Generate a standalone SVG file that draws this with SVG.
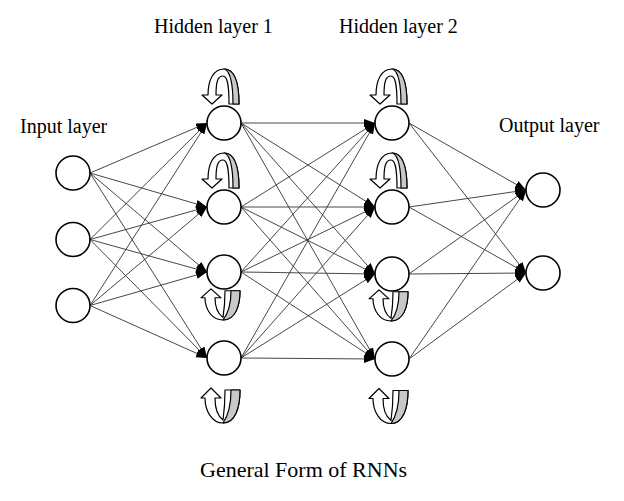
<svg xmlns="http://www.w3.org/2000/svg" xmlns:xlink="http://www.w3.org/1999/xlink" width="624" height="501" viewBox="0 0 624 501">
<style>
.lbl{font-family:"Liberation Serif","Times New Roman",serif;font-size:20px;fill:#000}
.ttl{font-family:"Liberation Serif","Times New Roman",serif;font-size:22px;fill:#000}
.node{fill:#fff;stroke:#000;stroke-width:1.6}
.edge{stroke:#333;stroke-width:0.9;fill:none;marker-end:url(#ah)}
.rw{fill:#fff;stroke:#000;stroke-width:1.2;stroke-linejoin:round}
.rg{fill:#c8c8c8;stroke:#000;stroke-width:1.2;stroke-linejoin:round}
</style>
<defs>
<marker id="ah" markerUnits="userSpaceOnUse" markerWidth="12" markerHeight="9" refX="11" refY="4" orient="auto">
<path d="M0,0 L11,4 L0,8 Z" fill="#000"/>
</marker>
<g id="loopTop">
<path class="rw" d="M-22,-28 L-12,-19 L-2,-28 L-8,-28 C-8,-42 -6,-47 -1,-47 C3,-47 5,-40 5,-19 L15,-19 C15,-42 10,-54 0,-54 C-10,-54 -16,-44 -16,-28 Z"/>
<path class="rg" d="M1,-54 C6,-51 9,-40 9,-19 L15,-19 C15,-42 10,-54 0,-54 Z"/>
</g>
<g id="loopBot">
<path class="rw" d="M-23,40 L-13,30 L-3,40 L-9,40 C-9,52 -5,59 -1,62 C0,55 1,45 1,32 L16,32 C16,50 11,65 -1,65 C-12,65 -19,53 -19,40 Z"/>
<path class="rg" d="M7,32 L16,32 C16,50 11,65 -1,65 C4,58 7,46 7,32 Z"/>
</g>
</defs>
<rect width="624" height="501" fill="#fff"/>
<g id="connectors">
<path class="edge" d="M90,173 L207,123"/>
<path class="edge" d="M90,173 L207,207"/>
<path class="edge" d="M90,173 L207,272"/>
<path class="edge" d="M90,173 L207,358"/>
<path class="edge" d="M90,239.5 L207,123"/>
<path class="edge" d="M90,239.5 L207,207"/>
<path class="edge" d="M90,239.5 L207,272"/>
<path class="edge" d="M90,239.5 L207,358"/>
<path class="edge" d="M90,305.5 L207,123"/>
<path class="edge" d="M90,305.5 L207,207"/>
<path class="edge" d="M90,305.5 L207,272"/>
<path class="edge" d="M90,305.5 L207,358"/>
<path class="edge" d="M241,123 L375,123"/>
<path class="edge" d="M241,123 L375,207"/>
<path class="edge" d="M241,123 L375,274"/>
<path class="edge" d="M241,123 L375,359"/>
<path class="edge" d="M241,207 L375,123"/>
<path class="edge" d="M241,207 L375,207"/>
<path class="edge" d="M241,207 L375,274"/>
<path class="edge" d="M241,207 L375,359"/>
<path class="edge" d="M241,272 L375,123"/>
<path class="edge" d="M241,272 L375,207"/>
<path class="edge" d="M241,272 L375,274"/>
<path class="edge" d="M241,272 L375,359"/>
<path class="edge" d="M241,358 L375,123"/>
<path class="edge" d="M241,358 L375,207"/>
<path class="edge" d="M241,358 L375,274"/>
<path class="edge" d="M241,358 L375,359"/>
<path class="edge" d="M409,123 L526,190"/>
<path class="edge" d="M409,123 L526,273"/>
<path class="edge" d="M409,207 L526,190"/>
<path class="edge" d="M409,207 L526,273"/>
<path class="edge" d="M409,274 L526,190"/>
<path class="edge" d="M409,274 L526,273"/>
<path class="edge" d="M409,359 L526,190"/>
<path class="edge" d="M409,359 L526,273"/>
</g>
<g id="input1"><circle class="node" cx="73" cy="173" r="17"/></g>
<g id="input2"><circle class="node" cx="73" cy="239.5" r="17"/></g>
<g id="input3"><circle class="node" cx="73" cy="305.5" r="17"/></g>
<g id="h1n1"><circle class="node" cx="224" cy="123" r="17"/><use xlink:href="#loopTop" href="#loopTop" transform="translate(224,123)"/></g>
<g id="h1n2"><circle class="node" cx="224" cy="207" r="17"/><use xlink:href="#loopTop" href="#loopTop" transform="translate(224,207)"/></g>
<g id="h1n3"><circle class="node" cx="224" cy="272" r="17"/><use xlink:href="#loopBot" href="#loopBot" transform="translate(224,262.4) scale(1,0.886)"/></g>
<g id="h1n4"><circle class="node" cx="224" cy="358" r="17"/><use xlink:href="#loopBot" href="#loopBot" transform="translate(224,358)"/></g>
<g id="h2n1"><circle class="node" cx="392" cy="123" r="17"/><use xlink:href="#loopTop" href="#loopTop" transform="translate(392,123)"/></g>
<g id="h2n2"><circle class="node" cx="392" cy="207" r="17"/><use xlink:href="#loopTop" href="#loopTop" transform="translate(392,207)"/></g>
<g id="h2n3"><circle class="node" cx="392" cy="274" r="17"/><use xlink:href="#loopBot" href="#loopBot" transform="translate(392,263.4) scale(1,0.886)"/></g>
<g id="h2n4"><circle class="node" cx="392" cy="359" r="17"/><use xlink:href="#loopBot" href="#loopBot" transform="translate(392,358.5)"/></g>
<g id="out1"><circle class="node" cx="543" cy="190" r="17"/></g>
<g id="out2"><circle class="node" cx="543" cy="273" r="17"/></g>
<g id="labels">
<text class="lbl" x="20" y="133">Input layer</text>
<text class="lbl" x="154" y="33">Hidden layer 1</text>
<text class="lbl" x="339" y="33">Hidden layer 2</text>
<text class="lbl" x="499" y="132">Output layer</text>
<text class="ttl" x="200" y="477">General Form of RNNs</text>
</g>
</svg>
